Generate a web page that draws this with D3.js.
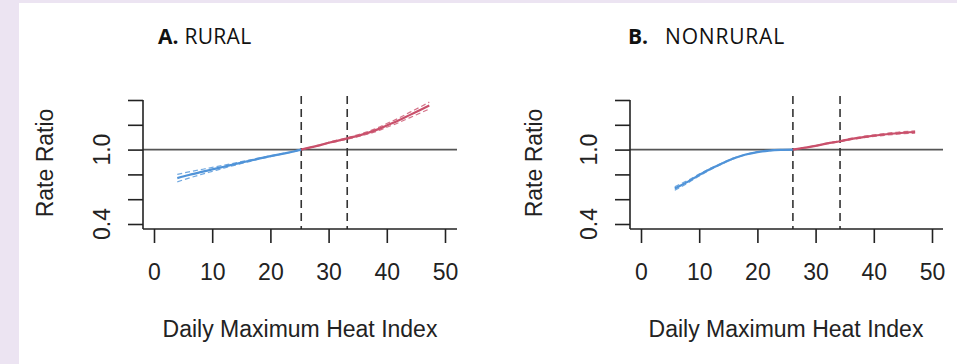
<!DOCTYPE html>
<html>
<head>
<meta charset="utf-8">
<script src="https://cdn.jsdelivr.net/npm/d3@7"></script>
<style>
html,body{margin:0;padding:0;background:#ece4f2;}
svg{display:block;}
</style>
</head>
<body>
<svg id="chart" width="957" height="364"></svg>
<script>
// ---- data ----
const xTicks = [0, 10, 20, 30, 40, 50];
const yTicks = [0.4, 0.6, 0.8, 1.0, 1.2, 1.4];
const yTickLabels = ["0.4", "", "", "1.0", "", ""];

// Rural
const ruralColdX  = [4, 6, 8, 10, 12, 14, 16, 18, 20, 22, 24, 25.3];
const ruralColdRR = [0.77, 0.795, 0.818, 0.84, 0.862, 0.884, 0.906, 0.927, 0.947, 0.966, 0.985, 1.0];
const ruralColdLo = [0.74, 0.770, 0.798, 0.824, 0.850, 0.875, 0.899, 0.922, 0.944, 0.964, 0.984, 1.0];
const ruralColdHi = [0.80, 0.820, 0.838, 0.856, 0.874, 0.893, 0.913, 0.932, 0.950, 0.968, 0.986, 1.0];
const ruralHotX   = [25.3, 28, 30, 33.2, 36, 38, 40, 42, 44, 46, 47.3];
const ruralHotRR  = [1.0, 1.03, 1.055, 1.09, 1.125, 1.155, 1.195, 1.235, 1.28, 1.325, 1.355];
const ruralHotLo  = [1.0, 1.028, 1.051, 1.084, 1.116, 1.143, 1.180, 1.217, 1.258, 1.300, 1.327];
const ruralHotHi  = [1.0, 1.032, 1.059, 1.096, 1.134, 1.167, 1.210, 1.253, 1.302, 1.350, 1.383];
const ruralMMT = 25.3, ruralP90 = 33.2;

// Nonrural
const nonColdX  = [5.8, 8, 10, 12, 14, 16, 18, 20, 22, 24, 26.1];
const nonColdRR = [0.686, 0.74, 0.795, 0.845, 0.89, 0.93, 0.96, 0.98, 0.992, 0.998, 1.0];
const nonColdLo = [0.672, 0.729, 0.787, 0.839, 0.886, 0.927, 0.958, 0.979, 0.991, 0.998, 1.0];
const nonColdHi = [0.700, 0.751, 0.803, 0.851, 0.894, 0.933, 0.962, 0.981, 0.993, 0.998, 1.0];
const nonHotX   = [26.1, 28, 30, 32, 34.2, 36, 38.8, 41, 44, 47.1];
const nonHotRR  = [1.0, 1.015, 1.03, 1.05, 1.067, 1.085, 1.105, 1.118, 1.132, 1.142];
const nonHotLo  = [1.0, 1.014, 1.028, 1.047, 1.063, 1.080, 1.099, 1.111, 1.124, 1.133];
const nonHotHi  = [1.0, 1.016, 1.032, 1.053, 1.071, 1.090, 1.111, 1.125, 1.140, 1.151];
const nonMMT = 26.1, nonP90 = 34.2;

// ---- drawing ----
const svg = d3.select("#chart");
svg.append("rect").attr("x",0).attr("y",0).attr("width",957).attr("height",364).attr("fill","#ece4f2");
svg.append("rect").attr("x",19).attr("y",3).attr("width",938).attr("height",361).attr("fill","#ffffff");

const BLUE = "#4f93d8", RED = "#c9506b", AXIS = "#222", REF = "#555";
const tickFont = "'Liberation Sans', Arial, Helvetica, sans-serif";

function zip(xs, ys){ return xs.map((x,i)=>[x, ys[i]]); }

function panel(opt){
  const g = svg.append("g");
  const x = d3.scaleLinear().domain([0,50]).range([opt.x0, opt.x0 + 291]);
  const y = d3.scaleLinear().domain([0.4,1.4]).range([224, 100]);
  const axX = opt.axX, axY = 229;

  // title
  const t = g.append("text").attr("x", opt.titleX).attr("y", 44)
    .attr("font-family","'Open Sans', Lato, sans-serif").attr("font-size", 21).attr("fill","#111");
  t.append("tspan").attr("font-weight","bold").text(opt.letter);
  t.append("tspan").attr("dx", opt.gap).attr("letter-spacing", opt.ls).text(opt.title);

  // reference line at RR=1
  g.append("line").attr("x1", axX).attr("x2", opt.refEnd).attr("y1", y(1)).attr("y2", y(1))
    .attr("stroke", REF).attr("stroke-width", 1.6);

  // vertical dashed lines
  [opt.mmt, opt.p90].forEach(v=>{
    g.append("line").attr("x1", x(v)).attr("x2", x(v)).attr("y1", 96).attr("y2", axY)
      .attr("stroke", "#333").attr("stroke-width", 1.6).attr("stroke-dasharray", "8,5");
  });

  // axes frame lines (L-shape)
  g.append("line").attr("x1", axX).attr("x2", axX).attr("y1", y(1.4)).attr("y2", axY)
    .attr("stroke", AXIS).attr("stroke-width", 1.6);
  g.append("line").attr("x1", axX).attr("x2", opt.refEnd).attr("y1", axY).attr("y2", axY)
    .attr("stroke", AXIS).attr("stroke-width", 1.6);

  // x axis ticks + labels
  const xa = g.append("g").attr("transform", `translate(0,${axY})`)
    .call(d3.axisBottom(x).tickValues(xTicks).tickSize(14).tickSizeOuter(0).tickPadding(21).tickFormat(d3.format("d")));
  xa.select(".domain").remove();
  xa.selectAll("line").attr("stroke", AXIS).attr("stroke-width", 1.6);
  xa.selectAll("text").attr("font-family", tickFont).attr("font-size", 23).attr("fill","#222");

  // y axis ticks
  const ya = g.append("g").attr("transform", `translate(${axX},0)`)
    .call(d3.axisLeft(y).tickValues(yTicks).tickSize(15).tickSizeOuter(0).tickFormat(""));
  ya.select(".domain").remove();
  ya.selectAll("line").attr("stroke", AXIS).attr("stroke-width", 1.6);
  // rotated y labels
  yTicks.forEach((v,i)=>{
    if(!yTickLabels[i]) return;
    g.append("text").attr("transform", `translate(${axX-33},${y(v)}) rotate(-90)`)
      .attr("text-anchor","middle").attr("font-family", tickFont).attr("font-size", 23).attr("fill","#222")
      .text(yTickLabels[i]);
  });

  // axis titles
  g.append("text").attr("transform", `translate(${opt.yLabX},163) rotate(-90)`)
    .attr("text-anchor","middle").attr("font-family", tickFont).attr("font-size", 23).attr("fill","#222")
    .text("Rate Ratio");
  g.append("text").attr("x", opt.xLabX).attr("y", 337).attr("text-anchor","middle")
    .attr("font-family", tickFont).attr("font-size", 23).attr("fill","#222")
    .text("Daily Maximum Heat Index");

  const line = d3.line().x(d=>x(d[0])).y(d=>y(d[1])).curve(d3.curveMonotoneX);
  const series = [
    {xs: opt.coldX, rr: opt.coldRR, lo: opt.coldLo, hi: opt.coldHi, c: BLUE},
    {xs: opt.hotX, rr: opt.hotRR, lo: opt.hotLo, hi: opt.hotHi, c: RED}
  ];
  series.forEach(s=>{
    [s.lo, s.hi].forEach(ci=>{
      g.append("path").attr("d", line(zip(s.xs, ci))).attr("fill","none")
        .attr("stroke", s.c).attr("stroke-width", 1.2).attr("stroke-dasharray","5,3").attr("opacity",0.8);
    });
    g.append("path").attr("d", line(zip(s.xs, s.rr))).attr("fill","none")
      .attr("stroke", s.c).attr("stroke-width", 2.2);
  });
}

panel({x0:154, axX:143, refEnd:457, titleX:158, letter:"A.", gap:6, ls:0.3, title:"RURAL",
  yLabX:53, xLabX:300, mmt:ruralMMT, p90:ruralP90,
  coldX:ruralColdX, coldRR:ruralColdRR, coldLo:ruralColdLo, coldHi:ruralColdHi,
  hotX:ruralHotX, hotRR:ruralHotRR, hotLo:ruralHotLo, hotHi:ruralHotHi});

panel({x0:641, axX:630, refEnd:943, titleX:628, letter:"B.", gap:17, ls:0.8, title:"NONRURAL",
  yLabX:542, xLabX:786, mmt:nonMMT, p90:nonP90,
  coldX:nonColdX, coldRR:nonColdRR, coldLo:nonColdLo, coldHi:nonColdHi,
  hotX:nonHotX, hotRR:nonHotRR, hotLo:nonHotLo, hotHi:nonHotHi});
</script>
</body>
</html>
